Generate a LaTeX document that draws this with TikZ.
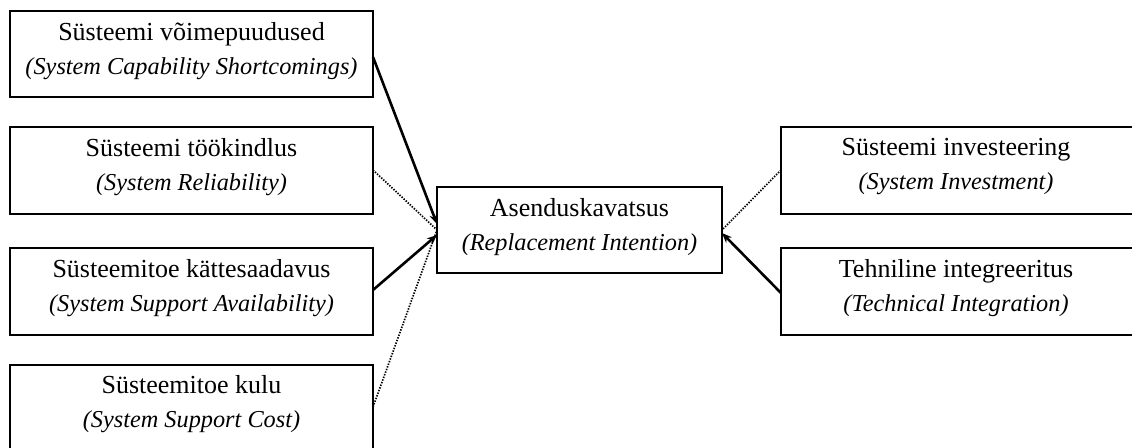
\documentclass[tikz,border=0pt]{standalone}
\usepackage{fontspec}
\setmainfont{Liberation Serif}
\usetikzlibrary{arrows.meta}
\newcommand{\eng}[1]{{\fontsize{24.3}{34}\selectfont\itshape #1}}
\begin{document}
\begin{tikzpicture}[x=1pt,y=-1pt,
  box/.style={draw,line width=2.2pt,inner sep=0pt},
  lbl/.style={align=center,font=\fontsize{26}{34}\selectfont},
  strong/.style={line width=2.6pt,-{Stealth[length=10pt,width=8pt]}},
  weak/.style={line width=1.7pt,dash pattern=on 1.4pt off 1.4pt},
]
\useasboundingbox (0,0) rectangle (1132,447);
% factor boxes (left column)
\draw[box] (10,11) rectangle (373,97);
\draw[box] (10,127) rectangle (373,214);
\draw[box] (10,248) rectangle (373,335);
\draw[box] (10,365) rectangle (373,460);
% outcome box
\draw[box] (437,187) rectangle (722,273);
% right column boxes
\draw[box] (781,127) rectangle (1145,214);
\draw[box] (781,248) rectangle (1145,335);

\node[lbl] (a) at (191.5,51) {Süsteemi võimepuudused\\\eng{(System Capability Shortcomings)}};
\node[lbl] (b) at (191.5,167) {Süsteemi töökindlus\\\eng{(System Reliability)}};
\node[lbl] (c) at (191.5,288) {Süsteemitoe kättesaadavus\\\eng{(System Support Availability)}};
\node[lbl] (d) at (191.5,404) {Süsteemitoe kulu\\\eng{(System Support Cost)}};
\node[lbl] (t) at (579.5,227) {Asenduskavatsus\\\eng{(Replacement Intention)}};
\node[lbl] (r1) at (956,167) {Süsteemi investeering\\\eng{(System Investment)}};
\node[lbl] (r2) at (956,288) {Tehniline integreeritus\\\eng{(Technical Integration)}};

% anchor points on the box edges
\coordinate (aE) at (373,57);
\coordinate (bE) at (373,170);
\coordinate (cE) at (373,290);
\coordinate (dE) at (373,407);
\coordinate (tW1) at (437,224);
\coordinate (tW) at (437,230);
\coordinate (tW2) at (437,235);
\coordinate (tE) at (722,230);
\coordinate (tE2) at (722,233);
\coordinate (r1W) at (781,170);
\coordinate (r2W) at (781,293);

\draw[strong] (aE) -- (tW1);
\draw[weak] (bE) -- (tW);
\draw[strong] (cE) -- (tW2);
\draw[weak] (dE) -- (tW);
\draw[weak] (r1W) -- (tE);
\draw[strong] (r2W) -- (tE2);
\end{tikzpicture}
\end{document}
